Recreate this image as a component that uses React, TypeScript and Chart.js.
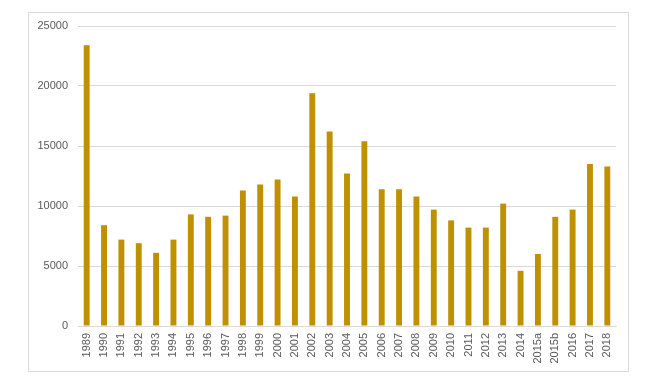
import React, { useEffect, useRef } from "react";
import { Chart, registerables } from "chart.js";

Chart.register(...registerables);

const categories = [
  "1989", "1990", "1991", "1992", "1993", "1994", "1995", "1996", "1997", "1998",
  "1999", "2000", "2001", "2002", "2003", "2004", "2005", "2006", "2007", "2008",
  "2009", "2010", "2011", "2012", "2013", "2014", "2015a", "2015b", "2016", "2017", "2018",
];

const values = [
  23400, 8400, 7200, 6900, 6100, 7200, 9300, 9100, 9200, 11300,
  11800, 12200, 10800, 19400, 16200, 12700, 15400, 11400, 11400, 10800,
  9700, 8800, 8200, 8200, 10200, 4600, 6000, 9100, 9700, 13500, 13300,
];

const yMin = 0;
const yMax = 25000;
const yStep = 5000;

const BAR_COLOR = "#BF9000";
const GRID_COLOR = "#D9D9D9";
const TEXT_COLOR = "#595959";
const FONT_FAMILY = "'Liberation Sans', Arial, sans-serif";

export default function App() {
  const canvasRef = useRef<HTMLCanvasElement | null>(null);

  useEffect(() => {
    if (!canvasRef.current) return;
    const chart = new Chart(canvasRef.current, {
      type: "bar",
      data: {
        labels: categories,
        datasets: [
          {
            data: values,
            backgroundColor: BAR_COLOR,
            borderWidth: 0,
            barPercentage: 0.34,
            categoryPercentage: 1,
          },
        ],
      },
      options: {
        animation: false,
        responsive: false,
        maintainAspectRatio: false,
        layout: { padding: { top: 13, right: 12, left: 0, bottom: 0 } },
        plugins: {
          legend: { display: false },
          tooltip: { enabled: false },
        },
        scales: {
          x: {
            grid: { display: false, drawTicks: false },
            border: { display: true, color: GRID_COLOR, width: 1 },
            ticks: {
              minRotation: 90,
              maxRotation: 90,
              autoSkip: false,
              padding: 7,
              color: TEXT_COLOR,
              font: { family: FONT_FAMILY, size: 11 },
            },
            afterFit: (scale: any) => {
              scale.height = 45;
              scale.paddingLeft = 0;
              scale.paddingRight = 0;
            },
          },
          y: {
            min: yMin,
            max: yMax,
            grid: { color: GRID_COLOR, drawTicks: false },
            border: { display: false },
            ticks: {
              stepSize: yStep,
              padding: 10,
              color: TEXT_COLOR,
              font: { family: FONT_FAMILY, size: 11 },
              callback: (v: any) => String(v),
            },
            afterFit: (scale: any) => {
              scale.width = 49;
              scale.paddingTop = 0;
              scale.paddingBottom = 0;
            },
          },
        },
      },
    });
    return () => chart.destroy();
  }, []);

  return (
    <div
      style={{
        position: "absolute",
        left: 28,
        top: 12,
        width: 601,
        height: 360,
        border: "1px solid #D9D9D9",
        boxSizing: "border-box",
        background: "#fff",
      }}
    >
      <canvas ref={canvasRef} width={599} height={358} style={{ display: "block" }} />
    </div>
  );
}
